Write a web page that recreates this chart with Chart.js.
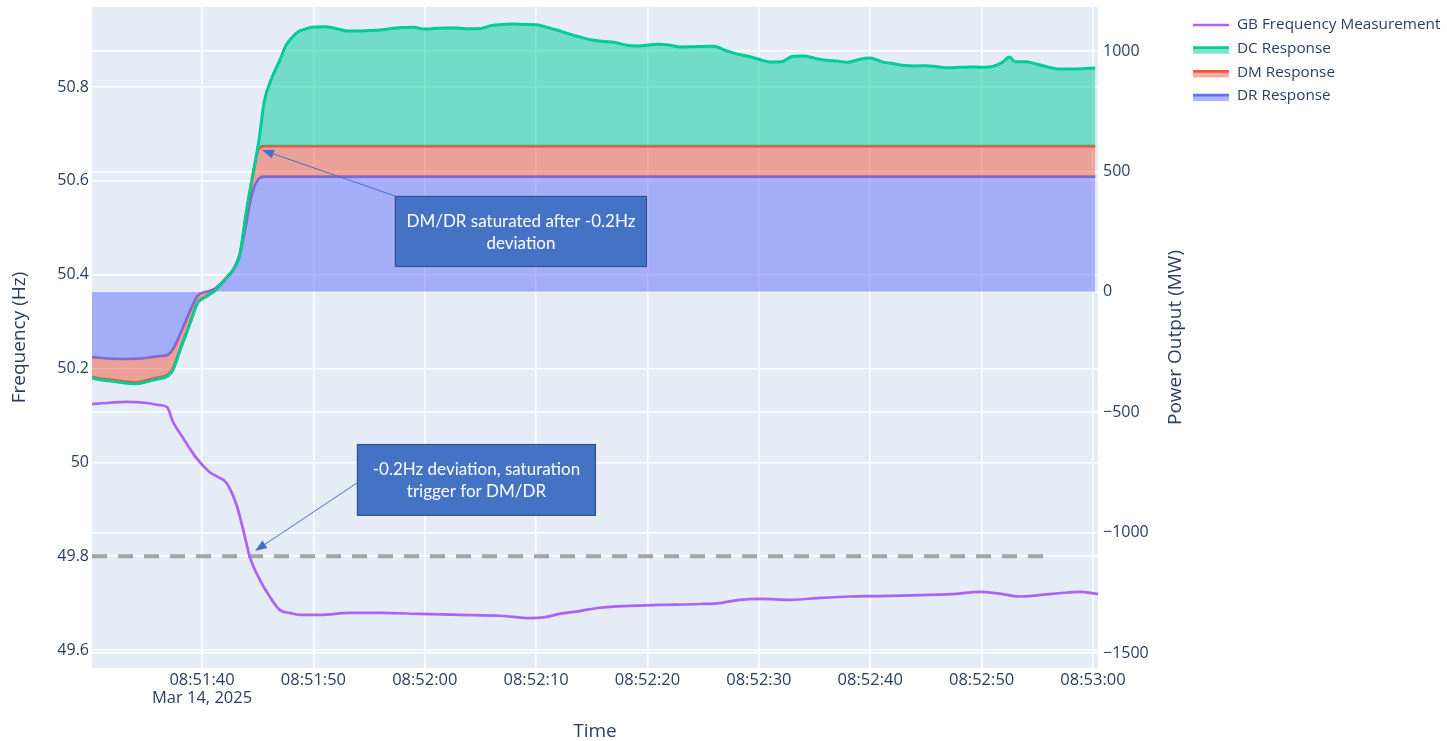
<!DOCTYPE html>
<html>
<head>
<meta charset="utf-8">
<script src="https://cdn.jsdelivr.net/npm/chart.js@4.4.1/dist/chart.umd.min.js"></script>
<style>
  html, body { margin: 0; padding: 0; background: #ffffff; overflow: hidden; }
  canvas { display: block; }
</style>
</head>
<body>
<canvas id="chart" width="1447" height="741"></canvas>
<script>
// ---- Data (time in seconds after 08:51:30, 14 Mar 2025) ----
const START_CLOCK = [8, 51, 30];
const DATE_LABEL = 'Mar 14, 2025';

const timeTicks = [10, 20, 30, 40, 50, 60, 70, 80, 90];
const freqTicks = [49.6, 49.8, 50, 50.2, 50.4, 50.6, 50.8];
const powerTicks = [-1500, -1000, -500, 0, 500, 1000];

// GB system frequency (Hz)
const freqTime = [0.12, 1.7, 3.1, 4.9, 6.2, 6.85, 7.4, 8.3, 9.5, 10.7,
  11.5, 12.2, 13.1, 13.7, 14.3, 15.2, 16.1, 17.0, 17.9, 18.8,
  20.6, 23.3, 26.0, 29.6, 33.2, 36.8, 39.5, 40.8, 42.1, 43.9,
  45.7, 48.4, 51.1, 54.7, 56.5, 58.3, 60.1, 62.8, 65.5, 68.2,
  70.9, 74.5, 77.2, 79.9, 81.6, 83.4, 85.2, 87.0, 88.8, 90.45];
const freqHz = [50.124, 50.127, 50.129, 50.127, 50.122, 50.118, 50.086, 50.052, 50.009, 49.979,
  49.968, 49.956, 49.909, 49.856, 49.798, 49.749, 49.713, 49.685, 49.679, 49.675,
  49.675, 49.679, 49.679, 49.677, 49.675, 49.673, 49.668, 49.670, 49.677, 49.683,
  49.690, 49.694, 49.696, 49.698, 49.700, 49.707, 49.709, 49.707, 49.711, 49.714,
  49.715, 49.717, 49.719, 49.724, 49.720, 49.714, 49.717, 49.721, 49.724, 49.719];

// -0.2 Hz deviation threshold
const thresholdHz = 49.8;
const thresholdSpan = [0.12, 85.95];

// Dynamic response services (MW), stacked DR -> DM -> DC
const powerTime = [0.1, 1, 2, 3, 4, 5, 6, 6.9, 7.4, 8,
  8.5, 9, 9.6, 10.3, 10.7, 11.2, 11.8, 12.3, 12.8, 13.4,
  13.9, 14.3, 14.7, 15.1, 15.6,
  16.3, 17, 17.5, 18, 18.6, 19.3,
  20, 21, 22, 23, 24, 25, 26, 27, 28, 29,
  30, 31, 32, 33, 34, 35, 36, 37, 38, 39,
  40, 41, 42, 43, 44, 45, 46, 47, 48, 49,
  50, 51, 52, 53, 54, 55, 56, 57, 58, 59,
  60, 61, 62, 63, 64, 65, 66, 67, 68, 69,
  70, 71, 72, 73, 74, 75, 76, 77, 78, 79,
  80, 81,
  81.9, 82.5, 83, 84, 85, 86, 87, 88, 89, 90.2];

const drMW = [-271, -275, -278, -279, -278, -275, -268, -262, -238, -180,
  -126, -72, -17, -1, 3, 14, 39, 63, 91, 158,
  268, 369, 437, 470, 478,
  478, 478, 478, 478, 478, 478,
  478, 478, 478, 478, 478, 478, 478, 478, 478, 478,
  478, 478, 478, 478, 478, 478, 478, 478, 478, 478,
  478, 478, 478, 478, 478, 478, 478, 478, 478, 478,
  478, 478, 478, 478, 478, 478, 478, 478, 478, 478,
  478, 478, 478, 478, 478, 478, 478, 478, 478, 478,
  478, 478, 478, 478, 478, 478, 478, 478, 478, 478,
  478, 478,
  478, 478, 478, 478, 478, 478, 478, 478, 478, 478];

const dmMW = [-82, -86, -88, -94, -98, -93, -88, -84, -80, -62,
  -54, -46, -28, -19, -12, -7, -2, 0, 0, 0,
  25, 45, 80, 127, 127,
  127, 127, 127, 127, 127, 127,
  127, 127, 127, 127, 127, 127, 127, 127, 127, 127,
  127, 127, 127, 127, 127, 127, 127, 127, 127, 127,
  127, 127, 127, 127, 127, 127, 127, 127, 127, 127,
  127, 127, 127, 127, 127, 127, 127, 127, 127, 127,
  127, 127, 127, 127, 127, 127, 127, 127, 127, 127,
  127, 127, 127, 127, 127, 127, 127, 127, 127, 127,
  127, 127,
  127, 127, 127, 127, 127, 127, 127, 127, 127, 127];

const dcMW = [-5, -5, -6, -6, -6, -6, -6, -5, -5, -4,
  -4, -3, -2, -2, -1, -1, 0, 1, 2, -5,
  18, 9, 3, 29, 187,
  287, 358, 415, 447, 474, 487,
  495, 496, 489, 478, 478, 480, 482, 488, 493, 494,
  486, 489, 491, 490, 487, 488, 501, 505, 507, 505,
  504, 493, 480, 465, 452, 441, 435, 431, 420, 416,
  420, 423, 419, 412, 413, 414, 415, 397, 383, 373,
  361, 349, 350, 372, 374, 365, 357, 353, 348, 360,
  366, 351, 343, 335, 333, 334, 330, 325, 327, 329,
  328, 331,
  349, 370, 350, 350, 340, 328, 320, 320, 321, 324];

// ---- Styling ----
const TEXT = '#2a3f5f';
const PLOT_BG = '#E5ECF6';
const GRID = '#ffffff';
const COLORS = {
  freq: '#ab63fa',
  dc: '#00cc96', dcFill: 'rgba(0,204,150,0.5)',
  dm: '#EF553B', dmFill: 'rgba(239,85,59,0.5)',
  dr: '#636efa', drFill: 'rgba(99,110,250,0.5)',
  threshold: '#a3a3a3',
  callout: '#4472C4', calloutEdge: '#2F528F'
};

Chart.defaults.font.family = '"Open Sans", "Noto Sans", Arial, sans-serif';

// stacked tops for the filled response bands
const cumDM = drMW.map((v, i) => v + dmMW[i]);
const cumDC = cumDM.map((v, i) => v + dcMW[i]);
const pts = (xs, ys) => xs.map((x, i) => ({ x: x, y: ys[i] }));

function clockLabel(sec) {
  const total = START_CLOCK[0] * 3600 + START_CLOCK[1] * 60 + START_CLOCK[2] + Math.round(sec);
  const h = Math.floor(total / 3600), m = Math.floor((total % 3600) / 60), s = total % 60;
  return [h, m, s].map(n => String(n).padStart(2, '0')).join(':');
}

// Callout boxes with arrows, anchored in axis units
const callouts = [
  { axis: 'y1', tip: [15.38, 589], tail: [27.32, 398], box: [27.32, 398, 49.95, 103],
    lines: ['DM/DR saturated after -0.2Hz', 'deviation'] },
  { axis: 'y', tip: [14.75, 49.811], tail: [23.91, 49.956], box: [23.91, 50.039, 45.37, 49.886],
    lines: ['-0.2Hz deviation, saturation', 'trigger for DM/DR'] }
];

const legendItems = [
  { label: 'GB Frequency Measurement', line: COLORS.freq, fill: null },
  { label: 'DC Response', line: COLORS.dc, fill: COLORS.dcFill },
  { label: 'DM Response', line: COLORS.dm, fill: COLORS.dmFill },
  { label: 'DR Response', line: COLORS.dr, fill: COLORS.drFill }
];

const backgroundPlugin = {
  id: 'plotBackground',
  beforeDraw(chart) {
    const { ctx, chartArea: a } = chart;
    ctx.save();
    ctx.fillStyle = '#ffffff';
    ctx.fillRect(0, 0, chart.width, chart.height);
    ctx.fillStyle = PLOT_BG;
    ctx.fillRect(a.left, a.top, a.right - a.left, a.bottom - a.top);
    ctx.restore();
  }
};

const calloutPlugin = {
  id: 'callouts',
  afterDatasetsDraw(chart) {
    const { ctx, scales } = chart;
    const xs = scales.x;
    callouts.forEach(c => {
      const ys = scales[c.axis];
      const tx = xs.getPixelForValue(c.tip[0]), ty = ys.getPixelForValue(c.tip[1]);
      const sx = xs.getPixelForValue(c.tail[0]), sy = ys.getPixelForValue(c.tail[1]);
      const ang = Math.atan2(ty - sy, tx - sx);
      const headLen = 12, headHalf = 4.5;
      const bx = tx - headLen * Math.cos(ang), by = ty - headLen * Math.sin(ang);
      ctx.save();
      ctx.strokeStyle = COLORS.callout;
      ctx.fillStyle = COLORS.callout;
      ctx.lineWidth = 1;
      ctx.beginPath();
      ctx.moveTo(sx, sy);
      ctx.lineTo(bx, by);
      ctx.stroke();
      ctx.beginPath();
      ctx.moveTo(tx, ty);
      ctx.lineTo(bx + headHalf * Math.sin(ang), by - headHalf * Math.cos(ang));
      ctx.lineTo(bx - headHalf * Math.sin(ang), by + headHalf * Math.cos(ang));
      ctx.closePath();
      ctx.fill();

      const x0 = xs.getPixelForValue(c.box[0]), y0 = ys.getPixelForValue(c.box[1]);
      const x1 = xs.getPixelForValue(c.box[2]), y1 = ys.getPixelForValue(c.box[3]);
      ctx.fillStyle = COLORS.callout;
      ctx.fillRect(x0, y0, x1 - x0, y1 - y0);
      ctx.strokeStyle = COLORS.calloutEdge;
      ctx.lineWidth = 1.2;
      ctx.strokeRect(x0 + 0.5, y0 + 0.5, x1 - x0 - 1, y1 - y0 - 1);
      ctx.fillStyle = '#ffffff';
      ctx.font = '17px Lato, "Open Sans", sans-serif';
      ctx.textAlign = 'center';
      ctx.textBaseline = 'middle';
      const cx = (x0 + x1) / 2, cy = (y0 + y1) / 2 + 1;
      const lh = 22;
      c.lines.forEach((t, i) => {
        ctx.fillText(t, cx, cy + (i - (c.lines.length - 1) / 2) * lh);
      });
      ctx.restore();
    });
  }
};

const legendPlugin = {
  id: 'sideLegend',
  afterDraw(chart) {
    const { ctx } = chart;
    const x0 = 1193, x1 = 1229, tx = 1237, top = 25, step = 23.7;
    ctx.save();
    ctx.font = '15.3px "Open Sans", sans-serif';
    ctx.textAlign = 'left';
    ctx.textBaseline = 'middle';
    legendItems.forEach((it, i) => {
      const y = top + i * step;
      if (it.fill) {
        ctx.fillStyle = it.fill;
        ctx.fillRect(x0, y - 1, x1 - x0, 6);
      }
      ctx.strokeStyle = it.line;
      ctx.lineWidth = 2.7;
      ctx.beginPath();
      ctx.moveTo(x0, it.fill ? y - 1 : y);
      ctx.lineTo(x1, it.fill ? y - 1 : y);
      ctx.stroke();
      ctx.fillStyle = TEXT;
      ctx.fillText(it.label, tx, y);
    });
    ctx.restore();
  }
};

const rightTitlePlugin = {
  id: 'rightAxisTitle',
  afterDraw(chart) {
    const { ctx, chartArea: a } = chart;
    ctx.save();
    ctx.translate(1176, (a.top + a.bottom) / 2);
    ctx.rotate(-Math.PI / 2);
    ctx.font = '19px "Open Sans", sans-serif';
    ctx.fillStyle = TEXT;
    ctx.textAlign = 'center';
    ctx.textBaseline = 'middle';
    ctx.fillText('Power Output (MW)', 0, 0);
    ctx.restore();
  }
};

const lineBase = { pointRadius: 0, pointHoverRadius: 0, cubicInterpolationMode: 'monotone' };

new Chart(document.getElementById('chart'), {
  type: 'line',
  data: {
    datasets: [
      Object.assign({}, lineBase, {
        label: 'DR Response', data: pts(powerTime, drMW), yAxisID: 'y1',
        borderColor: COLORS.dr, backgroundColor: COLORS.drFill, borderWidth: 2.7,
        fill: 'origin', order: 3
      }),
      Object.assign({}, lineBase, {
        label: 'DM Response', data: pts(powerTime, cumDM), yAxisID: 'y1',
        borderColor: COLORS.dm, backgroundColor: COLORS.dmFill, borderWidth: 2.7,
        fill: '-1', order: 2
      }),
      Object.assign({}, lineBase, {
        label: 'DC Response', data: pts(powerTime, cumDC), yAxisID: 'y1',
        borderColor: COLORS.dc, backgroundColor: COLORS.dcFill, borderWidth: 3,
        fill: '-1', order: 1
      }),
      Object.assign({}, lineBase, {
        label: 'GB Frequency Measurement', data: pts(freqTime, freqHz), yAxisID: 'y',
        borderColor: COLORS.freq, borderWidth: 2.7, fill: false, order: 0
      }),
      {
        label: '-0.2Hz threshold', yAxisID: 'y',
        data: [{ x: thresholdSpan[0], y: thresholdHz }, { x: thresholdSpan[1], y: thresholdHz }],
        borderColor: COLORS.threshold, borderWidth: 4, borderDash: [15, 11],
        pointRadius: 0, fill: false, order: 4
      }
    ]
  },
  options: {
    responsive: false,
    animation: false,
    devicePixelRatio: 1,
    events: [],
    layout: { padding: { top: 7, right: 0, bottom: 0, left: 0 } },
    plugins: { legend: { display: false }, tooltip: { enabled: false } },
    scales: {
      x: {
        type: 'linear', position: 'bottom', min: 0.12, max: 90.45,
        afterBuildTicks: s => { s.ticks = timeTicks.map(v => ({ value: v })); },
        afterFit: s => { s.height = 73; s.paddingLeft = 0; s.paddingRight = 0; },
        grid: { color: GRID, lineWidth: 1.5, drawTicks: false },
        border: { display: false },
        ticks: {
          padding: 3, maxRotation: 0, autoSkip: false, color: TEXT,
          font: { size: 16.5, lineHeight: 1.1 },
          callback: (v, i) => i === 0 ? [clockLabel(v), DATE_LABEL] : clockLabel(v)
        },
        title: {
          display: true, text: 'Time', color: TEXT,
          font: { size: 19, lineHeight: 1 }, padding: { top: 0, bottom: 0 }
        }
      },
      y: {
        type: 'linear', position: 'left', min: 49.5616, max: 50.9706,
        afterBuildTicks: s => { s.ticks = freqTicks.map(v => ({ value: v })); },
        afterFit: s => { s.width = 92; s.paddingTop = 0; s.paddingBottom = 0; },
        grid: { color: GRID, lineWidth: 1.5, drawTicks: false },
        border: { display: false },
        ticks: {
          padding: 3, color: TEXT, font: { size: 16 },
          callback: v => String(Number(v.toFixed(1)))
        },
        title: {
          display: true, text: 'Frequency (Hz)', color: TEXT,
          font: { size: 19, lineHeight: 1 }, padding: { top: 10.5, bottom: 0 }
        }
      },
      y1: {
        type: 'linear', position: 'right', min: -1562.3, max: 1182.7,
        afterBuildTicks: s => { s.ticks = powerTicks.map(v => ({ value: v })); },
        afterFit: s => { s.width = 349; s.paddingTop = 0; s.paddingBottom = 0; },
        grid: { color: GRID, lineWidth: 1.5, drawTicks: false },
        border: { display: false },
        ticks: {
          padding: 5, color: TEXT, font: { size: 16 },
          callback: v => v < 0 ? '\u2212' + Math.abs(v) : String(v)
        }
      }
    }
  },
  plugins: [backgroundPlugin, calloutPlugin, legendPlugin, rightTitlePlugin]
});
</script>
</body>
</html>
